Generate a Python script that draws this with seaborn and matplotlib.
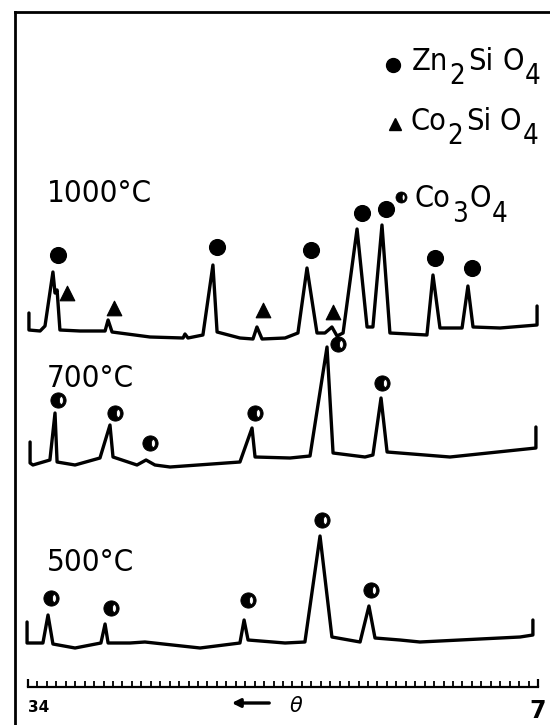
import numpy as np
import pandas as pd
import seaborn as sns
import matplotlib
matplotlib.use("Agg")
import matplotlib.pyplot as plt
from matplotlib import font_manager as fm
from matplotlib.path import Path

# ---------------- data (diffraction angle theta, intensity above baseline) --------------
theta_1000 = [33.95, 33.95, 33.36, 33.10, 32.68, 32.57, 32.46, 32.31, 31.25, 29.92,
              29.76, 29.55, 27.54, 25.79, 25.69, 25.53, 24.74, 24.21, 23.99, 22.78,
              22.09, 21.88, 21.61, 20.39, 19.71, 19.23, 18.70, 18.28, 17.91, 17.64,
              17.32, 16.58, 16.05, 15.74, 15.26, 14.84, 12.88, 12.56, 12.19, 11.02,
              10.71, 10.44, 9.01, 7.05, 7.05]
int_1000 = [27, 10, 9, 14, 68, 47, 50, 10, 9, 9,
            20, 8, 3, 2, 6, 2, 5, 75, 8, 2,
            1, 13, 1, 2, 7, 72, 7, 7, 13, 4,
            7, 111, 13, 13, 115, 7, 5, 65, 12, 12,
            54, 13, 12, 15, 34]

theta_700 = [33.89, 33.89, 33.74, 32.84, 32.57, 32.46, 31.51, 30.19, 29.66, 29.50,
             28.23, 27.75, 27.28, 26.48, 22.78, 22.14, 21.98, 20.13, 19.07, 18.17,
             17.85, 16.16, 15.74, 15.31, 14.99, 11.66, 7.11, 7.11]
int_700 = [23, 2, 0, 5, 52, 3, 0, 7, 40, 8,
           0, 5, 0, -2, 3, 37, 8, 7, 9, 118,
           12, 8, 10, 67, 13, 8, 17, 38]

theta_500 = [34.05, 34.05, 33.21, 32.94, 32.68, 31.51, 30.14, 29.92, 29.76, 28.60,
             27.81, 24.89, 22.78, 22.56, 22.35, 20.39, 19.34, 18.54, 17.91, 16.42,
             15.95, 15.63, 14.31, 13.25, 7.95, 7.27, 7.27]
int_500 = [23, 2, 2, 30, 1, -3, 2, 21, 2, 2,
           3, -3, 2, 25, 5, 2, 3, 109, 8, 3,
           39, 7, 5, 3, 8, 10, 25]

# phase markers
zn_theta_1000 = [32.41, 23.99, 19.02, 16.32, 15.05, 12.45, 10.49]
zn_int_1000 = [85, 93, 90, 127, 131, 82, 72]
co2_theta_1000 = [31.94, 29.45, 21.56, 17.85]
co2_int_1000 = [47, 32, 30, 28]
co3_theta_700 = [32.41, 29.39, 27.54, 21.98, 17.59, 15.26]
co3_int_700 = [65, 52, 22, 52, 121, 82]
co3_theta_500 = [32.78, 29.61, 22.35, 18.44, 15.84]
co3_int_500 = [47, 37, 45, 125, 55]

temperatures = ["1000°C", "700°C", "500°C"]
scale_labels = ["34", "7"]
scale_ticks = [34, 7]

# ---------------- style ----------------
sns.set_theme(style="white")
ttf = fm.fontManager.ttflist
if any(f.name == "DejaVu Sans" and str(f.stretch) in ("condensed", "semi-condensed") for f in ttf):
    FONT = dict(family="DejaVu Sans", stretch="condensed")
elif any(f.name == "Liberation Sans Narrow" for f in ttf):
    FONT = dict(family="Liberation Sans Narrow")
else:
    FONT = dict(family="DejaVu Sans")
plt.rcParams["font.family"] = ["DejaVu Sans"]

# Co3O4 marker: black disc with a small white oval on the right
_t = np.linspace(0, 2 * np.pi, 48, endpoint=False)
_outer = np.c_[np.cos(_t), np.sin(_t)]
_inner = np.c_[0.38 + 0.26 * np.cos(-_t), 0.52 * np.sin(-_t)]
_verts = np.vstack([_outer, _outer[:1], _inner, _inner[:1]])
_codes = ([Path.MOVETO] + [Path.LINETO] * (len(_outer) - 1) + [Path.CLOSEPOLY]
          + [Path.MOVETO] + [Path.LINETO] * (len(_inner) - 1) + [Path.CLOSEPOLY])
CO3_MARKER = Path(_verts, _codes)

W, H = 550, 725
fig = plt.figure(figsize=(W / 100, H / 100), dpi=100)
fig.patch.set_facecolor("white")
ax = fig.add_axes([15 / W, 0, (W - 15) / W, (H - 12) / H])
ax.set_facecolor("white")

PX0, DEG_PX = 28, 510 / 27.0
ax.set_xlim(34 + (PX0 - 15) / DEG_PX, 34 - (W - PX0) / DEG_PX)
ax.set_ylim(0, H - 12)

offsets = {"1000°C": 385, "700°C": 260, "500°C": 80}
LW = 2.4
for th, it, lab in [(theta_1000, int_1000, "1000°C"),
                    (theta_700, int_700, "700°C"),
                    (theta_500, int_500, "500°C")]:
    df = pd.DataFrame({"theta": th, "I": np.array(it) + offsets[lab]})
    sns.lineplot(data=df, x="theta", y="I", sort=False, estimator=None,
                 color="black", lw=LW, ax=ax)

sns.scatterplot(x=zn_theta_1000, y=np.array(zn_int_1000) + offsets["1000°C"],
                marker="o", s=130, color="black", edgecolor="black", ax=ax, zorder=5)
sns.scatterplot(x=co2_theta_1000, y=np.array(co2_int_1000) + offsets["1000°C"],
                marker="^", s=110, color="black", edgecolor="black", ax=ax, zorder=5)
half = dict(marker=CO3_MARKER, ls="none", ms=11, mfc="black", mec="black",
            mew=0.6, zorder=5)
ax.plot(co3_theta_700, np.array(co3_int_700) + offsets["700°C"], **half)
ax.plot(co3_theta_500, np.array(co3_int_500) + offsets["500°C"], **half)

ax.set_xlabel("")
ax.set_ylabel("")
ax.set_yticks([])

for s in ["left", "top"]:
    ax.spines[s].set_visible(True)
    ax.spines[s].set_linewidth(2.0)
    ax.spines[s].set_color("black")
ax.spines["right"].set_visible(False)
ax.spines["bottom"].set_position(("data", H - 687))
ax.spines["bottom"].set_bounds(7, 34)
ax.spines["bottom"].set_linewidth(1.6)
ax.spines["bottom"].set_color("black")

ax.set_xticks(scale_ticks)
ax.set_xticks(np.arange(7, 34.01, 0.5), minor=True)
ax.set_xticklabels(scale_labels)
ax.tick_params(axis="x", which="major", direction="in", length=6, width=1.6,
               color="black", pad=9, bottom=True)
ax.tick_params(axis="x", which="minor", direction="in", length=4, width=1.3,
               color="black", bottom=True)
lbls = ax.get_xticklabels()
lbls[0].set_fontsize(11)
lbls[0].set_fontweight("bold")
lbls[0].set_ha("left")
lbls[1].set_fontsize(17)
lbls[1].set_fontweight("bold")
for t in lbls:
    t.set_color("black")

def px2deg(xp):
    return 34 - (xp - PX0) / DEG_PX

ax.annotate("", xy=(px2deg(229), H - 703), xytext=(px2deg(272), H - 703),
            arrowprops=dict(arrowstyle="-|>", color="black", lw=2.4, mutation_scale=12),
            annotation_clip=False)
ax.text(px2deg(296), H - 706, "θ", ha="center", va="center", fontsize=15,
        style="italic", color="black")

for lab, base in zip(temperatures, [202, 387, 571]):
    fig.text(47 / W, 1 - base / H, lab, ha="left", va="baseline", fontsize=22.5,
             color="black", **FONT)

renderer = fig.canvas.get_renderer()

def rich(x_px, base_px, parts, size):
    x = x_px
    for s, dy, gap, scale in parts:
        t = fig.text(x / W, 1 - (base_px + dy) / H, s, ha="left", va="baseline",
                     fontsize=size * scale, color="black", **FONT)
        bb = t.get_window_extent(renderer=renderer)
        x = bb.x1 + gap

LS = 22
rich(412, 70, [("Zn", 0, 1, 1), ("2", 14, 3, 0.9), ("Si", 0, 9, 1),
               ("O", 0, 1, 1), ("4", 14, 0, 0.9)], LS)
rich(410, 130, [("Co", 0, 1, 1), ("2", 14, 3, 0.9), ("Si", 0, 9, 1),
                ("O", 0, 1, 1), ("4", 14, 0, 0.9)], LS)
rich(415, 207, [("Co", 0, 1, 1), ("3", 15, 2, 0.9), ("O", 0, 1, 1),
                ("4", 15, 0, 0.9)], LS)

leg_kw = dict(transform=fig.transFigure, clip_on=False, ls="none", color="black")
ax.plot([393 / W], [1 - 65 / H], marker="o", ms=10, **leg_kw)
ax.plot([395 / W], [1 - 124 / H], marker="^", ms=9, **leg_kw)
ax.plot([401 / W], [1 - 197 / H], marker=CO3_MARKER, ms=8, mfc="black", mec="black",
        mew=0.5, transform=fig.transFigure, clip_on=False, ls="none")

fig.savefig("out.png", dpi=100, facecolor="white")
